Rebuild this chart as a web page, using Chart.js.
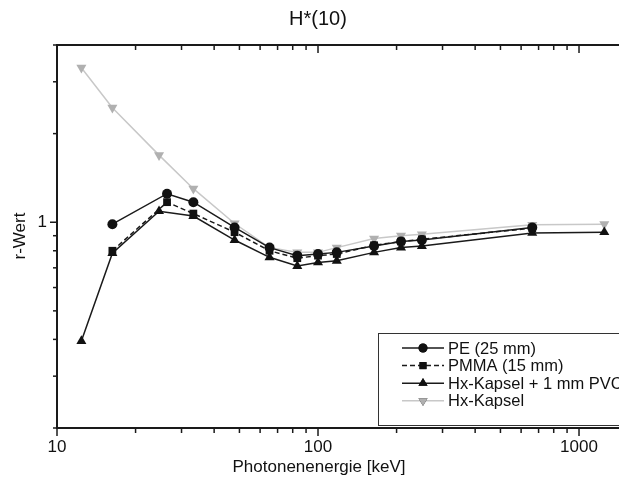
<!DOCTYPE html>
<html lang="de">
<head>
    <meta charset="UTF-8">
    <title>H*(10)</title>
    <script src="https://cdn.jsdelivr.net/npm/chart.js"></script>
    <style>
        html, body { margin: 0; padding: 0; background: #fff; overflow: hidden; }
        /* Grafik ist rechts abgeschnitten wie im Original */
        #wrap { width: 619px; height: 484px; overflow: hidden; }
    </style>
</head>
<body>
    <div id="wrap"><canvas id="rChart" width="628" height="484"></canvas></div>

    <script>
        // Photonenenergien (keV), N-Serie + Cs-137 + Co-60
        const energien   = [12.4, 16.3, 24.6, 33.3, 47.9, 65.2, 83.3, 100, 118, 164, 208, 250, 662, 1250];
        const energienPE = [12.4, 16.3, 26.4, 33.3, 47.9, 65.2, 83.3, 100, 118, 164, 208, 250, 662, 1250];
        const rPE        = [null, 0.985, 1.25, 1.17, 0.96, 0.82, 0.77, 0.78, 0.79, 0.83, 0.86, 0.87, 0.96, null];
        const rPMMA      = [null, 0.80, 1.17, 1.07, 0.925, 0.80, 0.755, 0.77, 0.78, 0.835, 0.86, 0.875, 0.955, null];
        const rKapselPVC = [0.395, 0.785, 1.09, 1.05, 0.87, 0.76, 0.71, 0.73, 0.74, 0.79, 0.82, 0.83, 0.92, 0.925];
        const rKapsel    = [3.35, 2.45, 1.69, 1.30, 0.99, 0.82, 0.79, 0.79, 0.82, 0.88, 0.90, 0.91, 0.98, 0.985];

        const xTicks  = [10, 20, 30, 40, 50, 60, 70, 80, 90, 100, 200, 300, 400, 500, 600, 700, 800, 900, 1000];
        const xLabels = [10, 100, 1000];
        const yTicks  = [0.2, 0.3, 0.4, 0.5, 0.6, 0.7, 0.8, 0.9, 1, 2, 3, 4];
        const yLabels = [1];

        const FONT = "'Liberation Sans', Arial, sans-serif";

        function punkte(xs, werte) {
            return xs.map((e, i) => ({ x: e, y: werte[i] })).filter(p => p.y !== null);
        }

        // Rahmen (rechts offen), Ticks, Titel und Legende
        const rahmenPlugin = {
            id: 'rahmen',
            afterDraw(chart) {
                const { ctx, chartArea: a, scales, width } = chart;
                const x = scales.x, y = scales.y;
                ctx.save();
                ctx.strokeStyle = '#1a1a1a';
                ctx.lineWidth = 2;
                function strich(x1, y1, x2, y2) {
                    ctx.beginPath(); ctx.moveTo(x1, y1); ctx.lineTo(x2, y2); ctx.stroke();
                }
                strich(a.left - 1, a.top, width, a.top);
                strich(a.left - 1, a.bottom, width, a.bottom);
                strich(a.left, a.top, a.left, a.bottom);

                ctx.lineWidth = 1.5;
                xTicks.forEach(v => {
                    const px = x.getPixelForValue(v);
                    const len = xLabels.includes(v) ? 8 : 5;
                    strich(px, a.bottom, px, a.bottom + len);
                    strich(px, a.top, px, a.top + len);
                });
                yTicks.forEach(v => {
                    const py = y.getPixelForValue(v);
                    const len = yLabels.includes(v) ? 7 : 4;
                    strich(a.left, py, a.left - len, py);
                });

                // Titel und Achsentitel
                ctx.fillStyle = '#111';
                ctx.textAlign = 'center';
                ctx.textBaseline = 'middle';
                ctx.font = '20px ' + FONT;
                ctx.fillText('H*(10)', 318, 19);
                ctx.font = '17px ' + FONT;
                ctx.fillText('Photonenenergie [keV]', 319, 467);
                ctx.save();
                ctx.translate(20, 236);
                ctx.rotate(-Math.PI / 2);
                ctx.fillText('r-Wert', 0, 0);
                ctx.restore();

                // Legende
                const lx = 378, ly = 333, zeile = 17.6;
                ctx.lineWidth = 1;
                ctx.strokeStyle = '#333';
                ctx.strokeRect(lx + 0.5, ly + 0.5, 300, 92);
                ctx.font = '16.5px ' + FONT;
                ctx.textAlign = 'left';
                chart.data.datasets.forEach((ds, i) => {
                    const yy = ly + 15 + i * zeile;
                    ctx.strokeStyle = ds.borderColor;
                    ctx.lineWidth = ds.borderWidth;
                    ctx.setLineDash(ds.borderDash || []);
                    strich(402, yy, 444, yy);
                    ctx.setLineDash([]);
                    Chart.helpers.drawPoint(ctx, {
                        pointStyle: ds.pointStyle,
                        rotation: ds.pointRotation || 0,
                        radius: ds.pointRadius - 0.5,
                        borderWidth: 0
                    }, 423, yy);
                    ctx.fillStyle = ds.pointBackgroundColor;
                    ctx.fill();
                    ctx.fillStyle = '#111';
                    ctx.fillText(ds.label, 448, yy + 1);
                });
                ctx.restore();
            }
        };

        function serie(label, xs, werte, farbe, punktFarbe, stil, extra) {
            return Object.assign({
                label: label,
                data: punkte(xs, werte),
                borderColor: farbe,
                borderWidth: 1.5,
                pointStyle: stil,
                pointRadius: 4.5,
                pointBackgroundColor: punktFarbe,
                pointBorderColor: punktFarbe,
                pointBorderWidth: 0,
                tension: 0,
                clip: false
            }, extra || {});
        }

        const ctx = document.getElementById('rChart').getContext('2d');
        new Chart(ctx, {
            type: 'line',
            data: {
                datasets: [
                    serie('PE (25 mm)', energienPE, rPE, '#1a1a1a', '#111', 'circle', { pointRadius: 5 }),
                    serie('PMMA (15 mm)', energienPE, rPMMA, '#1a1a1a', '#111', 'rect', { borderDash: [5, 3], pointRadius: 5.5 }),
                    serie('Hx-Kapsel + 1 mm PVC', energien, rKapselPVC, '#1a1a1a', '#111', 'triangle', { pointRadius: 5.8 }),
                    serie('Hx-Kapsel', energien, rKapsel, '#c8c8c8', '#b0b0b0', 'triangle', { pointRadius: 5.8, pointRotation: 180 })
                ]
            },
            options: {
                responsive: false,
                animation: false,
                devicePixelRatio: 1,
                layout: { padding: { top: 45, right: 0, left: 0, bottom: 0 } },
                plugins: {
                    legend: { display: false },
                    title: { display: false },
                    tooltip: { enabled: false }
                },
                scales: {
                    x: {
                        type: 'logarithmic',
                        min: 10,
                        max: 1423,
                        grid: { display: false, drawTicks: false },
                        border: { display: false },
                        // letzter (leerer) Tick am Rand, damit rechts kein Platz reserviert wird
                        afterBuildTicks: s => { s.ticks = xTicks.concat([s.max]).map(v => ({ value: v })); },
                        afterFit: s => { s.height = 56; },
                        ticks: {
                            autoSkip: false,
                            maxRotation: 0,
                            padding: 9,
                            color: '#111',
                            font: { family: FONT, size: 17 },
                            callback: v => xLabels.includes(v) ? String(v) : ''
                        }
                    },
                    y: {
                        type: 'logarithmic',
                        min: 0.2,
                        max: 4,
                        grid: { display: false, drawTicks: false },
                        border: { display: false },
                        afterBuildTicks: s => { s.ticks = yTicks.map(v => ({ value: v })); },
                        afterFit: s => { s.width = 57; },
                        ticks: {
                            autoSkip: false,
                            padding: 10,
                            color: '#111',
                            font: { family: FONT, size: 17 },
                            callback: v => yLabels.includes(v) ? String(v) : ''
                        }
                    }
                }
            },
            plugins: [rahmenPlugin]
        });
    </script>
</body>
</html>
